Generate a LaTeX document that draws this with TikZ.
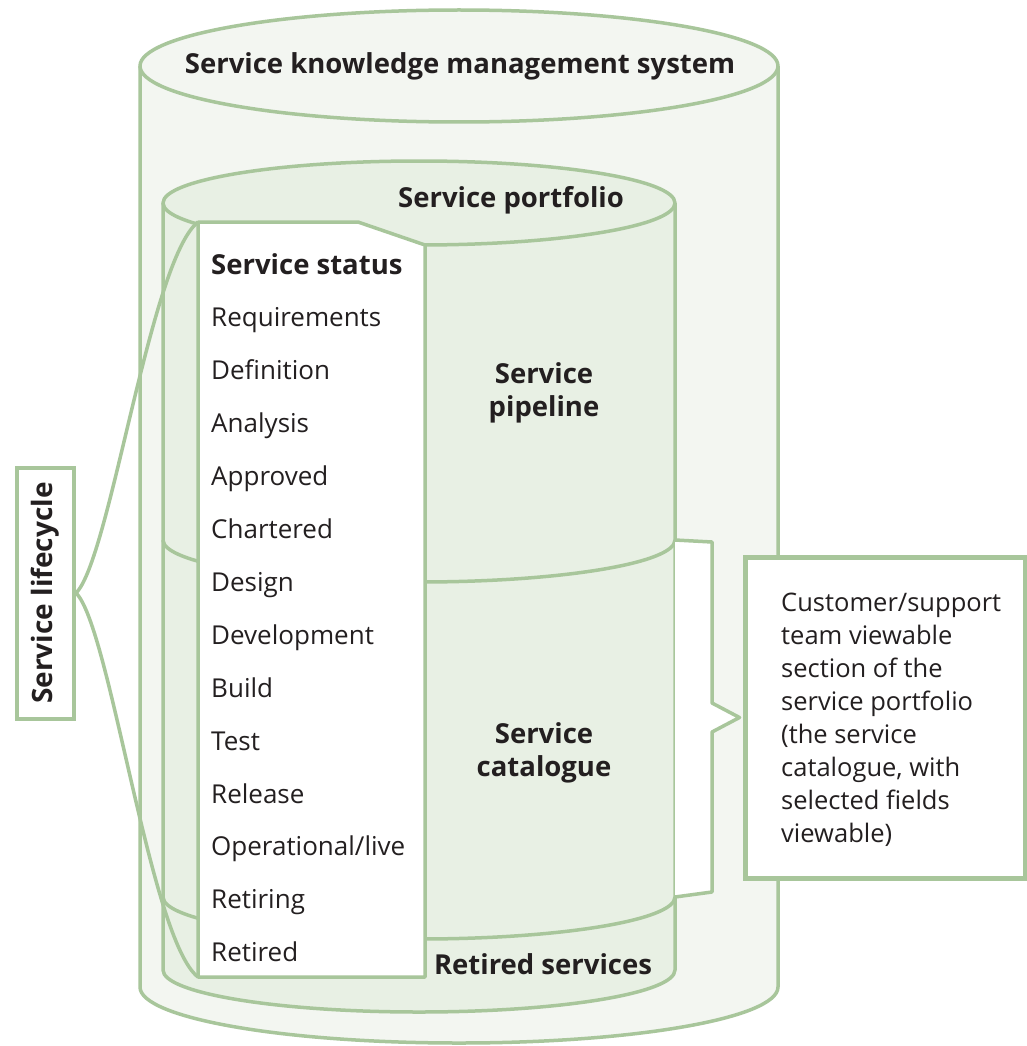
\documentclass[tikz,border=0pt]{standalone}
\usepackage{fontspec}
\setmainfont{Open Sans}
\definecolor{edge}{HTML}{A8C69B}
\definecolor{outerfill}{HTML}{F3F6F1}
\definecolor{innerfill}{HTML}{E8F0E4}
\definecolor{ink}{HTML}{231F20}
\tikzset{
  gline/.style={draw=edge, line width=3.5pt, line join=round},
  boldlbl/.style={text=ink, font=\fontsize{27.5}{33}\selectfont\bfseries, align=center, inner sep=0pt},
  item/.style={text=ink, font=\fontsize{26}{30}\selectfont, anchor=base west, inner sep=0pt},
}
\begin{document}
\begin{tikzpicture}[x=1pt,y=1pt]
\useasboundingbox[fill=white] (0,0) rectangle (1027,-1046);
% outer cylinder
\path[fill=outerfill] (140,-66) -- (140,-987) arc[start angle=180,end angle=360,x radius=319,y radius=56] -- (778,-66) arc[start angle=0,end angle=180,x radius=319,y radius=56] -- cycle;
\draw[gline] (140,-66) -- (140,-987) arc[start angle=180,end angle=360,x radius=319,y radius=56] -- (778,-66);
\draw[gline] (459,-66) ellipse[x radius=319,y radius=56];
% inner cylinder
\path[fill=innerfill] (163,-203) -- (163,-970) arc[start angle=180,end angle=360,x radius=256,y radius=42] -- (675,-203) arc[start angle=0,end angle=180,x radius=256,y radius=42] -- cycle;
\draw[gline] (163,-203) -- (163,-970) arc[start angle=180,end angle=360,x radius=256,y radius=42] -- (675,-203);
\draw[gline] (419,-203) ellipse[x radius=256,y radius=42];
% boundaries
\draw[gline] (163,-540) arc[start angle=180,end angle=360,x radius=256,y radius=42];
\draw[gline] (163,-897) arc[start angle=180,end angle=360,x radius=256,y radius=42];
% description box
\node[draw=edge, line width=5pt, fill=white, minimum width=280pt, minimum height=321pt, inner sep=0pt] (desc) at (885,-717.5) {};
\node[text=ink, font=\fontsize{25.5}{33}\selectfont, align=left, anchor=west, inner sep=0pt] (desctext) at (781,-720)
 {Customer/support\\team viewable\\section of the\\service portfolio\\(the service\\catalogue, with\\selected fields\\viewable)};
% bracket
\coordinate (btop) at (675,-540);
\coordinate (bbot) at (675,-897);
\path[fill=white] (btop) -- (712,-542) -- (712,-703) -- ([xshift=-3pt]desc.west) -- (712,-732) -- (712,-892) -- (bbot) -- cycle;
\draw[gline] (btop) -- (712,-542) -- (712,-703) -- ([xshift=-3pt]desc.west) -- (712,-732) -- (712,-892) -- (bbot);
% lifecycle box
\node[draw=edge, line width=4pt, fill=white, rotate=90, minimum width=251pt, minimum height=57pt, inner sep=0pt, text=ink, font=\fontsize{28}{30}\selectfont\bfseries] (lc) at (45.5,-593) {Service lifecycle};
% status box
\coordinate (tl) at (198,-222);
\coordinate (bl) at (198,-977);
\draw[gline, fill=white] (tl) -- (358,-222) -- (425,-245) -- (425,-977) -- (bl) -- cycle;
% lifecycle curves
\draw[gline] (lc.south) .. controls (110,-560) and (150,-260) .. (tl);
\draw[gline] (lc.south) .. controls (110,-626) and (150,-940) .. (bl);
% labels
\node[boldlbl] (skms) at (460,-66) {Service knowledge management system};
\node[boldlbl] (sp) at (511,-200) {Service portfolio};
\node[boldlbl] (pipe) at (544,-393) {Service\\pipeline};
\node[boldlbl] (cat) at (544,-753) {Service\\catalogue};
\node[boldlbl] (ret) at (543,-964) {Retired services};
\node[item, font=\fontsize{27.5}{30}\selectfont\bfseries] (s0) at (211,-274) {Service status};
\foreach \t [count=\i] in {Requirements,Definition,Analysis,Approved,Chartered,Design,Development,Build,Test,Release,Operational/live,Retiring,Retired}
  \node[item] (s\i) at (211,-274-52.9*\i) {\t};
\end{tikzpicture}
\end{document}
